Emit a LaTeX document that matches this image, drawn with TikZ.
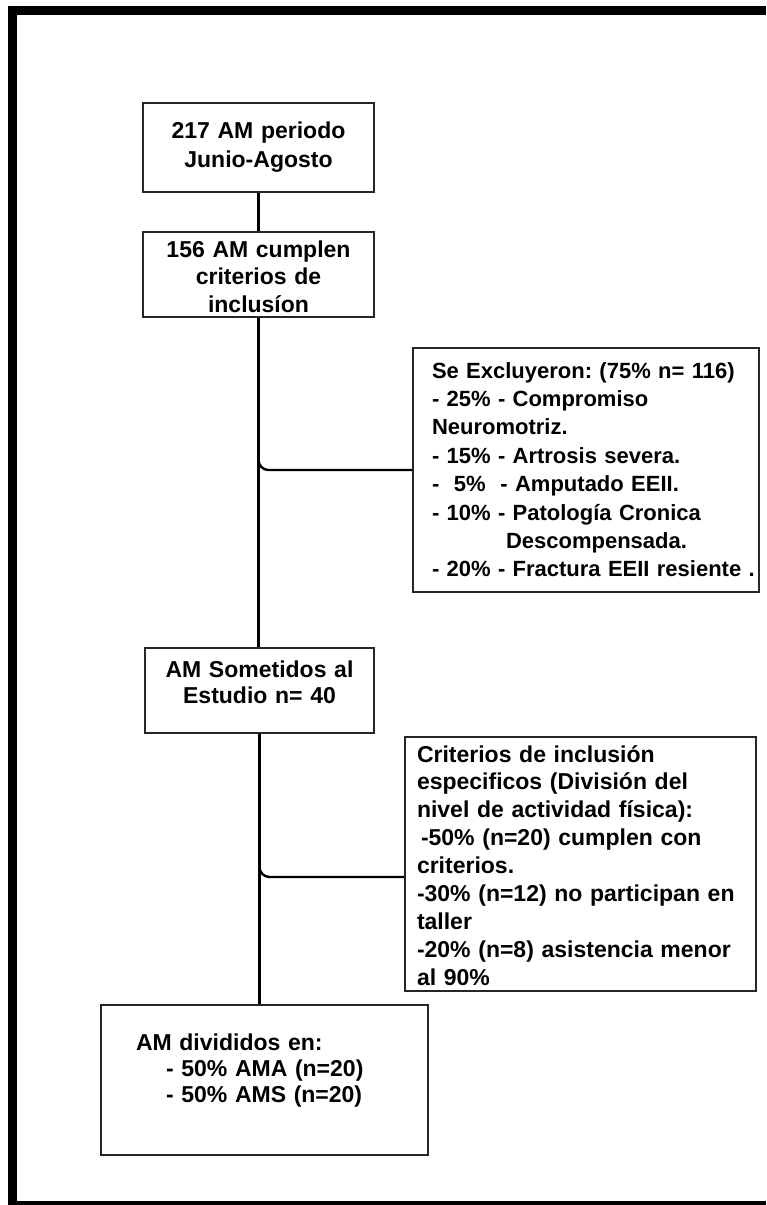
\documentclass[tikz,border=0pt]{standalone}
\usepackage{fontspec}
\setmainfont{Liberation Sans}
\frenchspacing
\usetikzlibrary{positioning, calc}

\begin{document}
\begin{tikzpicture}[x=0.5pt, y=-0.5pt,
    box/.style={draw=black!85, line width=0.9pt, inner ysep=0pt},
    stage/.style={box, align=center, inner xsep=4pt, font=\bfseries\fontsize{11.5}{14}\selectfont},
    note/.style={box, align=left},
    link/.style={line width=1.2pt}]
  \useasboundingbox (0,0) rectangle (766,1205);

  % Frame
  \fill (8,6) rectangle (766,15);
  \fill (8,6) rectangle (17,1205);
  \fill (8,1201) rectangle (766,1205);

  % Main column
  \node[stage, text width=107.5pt, text height=17.5pt, text depth=27pt,
        font=\bfseries\fontsize{11.5}{14.5}\selectfont] (total) at (258.5,147.5)
    {217 AM periodo\\Junio-Agosto};
  \node[stage, text width=107.5pt, text height=12.5pt, text depth=30pt,
        font=\bfseries\fontsize{11.5}{13.75}\selectfont] (incl) at (258.5,274.5)
    {156 AM cumplen\\criterios de\\inclusíon};
  \node[stage, text width=106.5pt, text height=14.5pt, text depth=28pt,
        font=\bfseries\fontsize{11.5}{13}\selectfont] (study) at (259.5,690.5)
    {AM Sometidos al\\Estudio n= 40};
  \node[note, text width=128.5pt, inner xsep=17.5pt, text height=22.5pt, text depth=52.5pt,
        font=\bfseries\fontsize{11.5}{13}\selectfont] (groups) at (264.5,1080)
    {AM divididos en:\\
     \hspace*{15pt}- 50\% AMA (n=20)\\
     \hspace*{15pt}- 50\% AMS (n=20)};

  % Side boxes
  \node[note, text width=154pt, inner xsep=9.5pt, text height=15pt, text depth=107pt,
        font=\bfseries\fontsize{11}{14.2}\selectfont] (excl) at (586,470)
    {Se Excluyeron: (75\% n= 116)\\
     - 25\% - Compromiso\\
     Neuromotriz.\\
     - 15\% - Artrosis severa.\\
     -\ \ 5\%\ \ - Amputado EEII.\\
     - 10\% - Patología Cronica\\
     \hspace*{37pt}Descompensada.\\
     \mbox{- 20\% - Fractura EEII resiente .}};
  \node[note, text width=163.5pt, inner xsep=6pt, text height=12.5pt, text depth=114.5pt,
        font=\bfseries\fontsize{11.5}{13.94}\selectfont] (crit) at (580.5,864)
    {Criterios de inclusión\\
     especificos (División del\\
     nivel de actividad física):\\
     \hspace*{2pt}-50\% (n=20) cumplen con\\
     criterios.\\
     -30\% (n=12) no participan en\\
     taller\\
     -20\% (n=8) asistencia menor\\
     al 90\%};

  % Connectors
  \draw[link] (total) -- (incl);
  \draw[link] (incl.south) -- (incl.south |- study.north);
  \draw[link, rounded corners=5pt] (incl.south) |- (excl.west);
  \draw[link] (study.south) -- (study.south |- groups.north);
  \draw[link, rounded corners=5pt] (study.south) |- ([yshift=-6.5pt]crit.west);
\end{tikzpicture}
\end{document}
